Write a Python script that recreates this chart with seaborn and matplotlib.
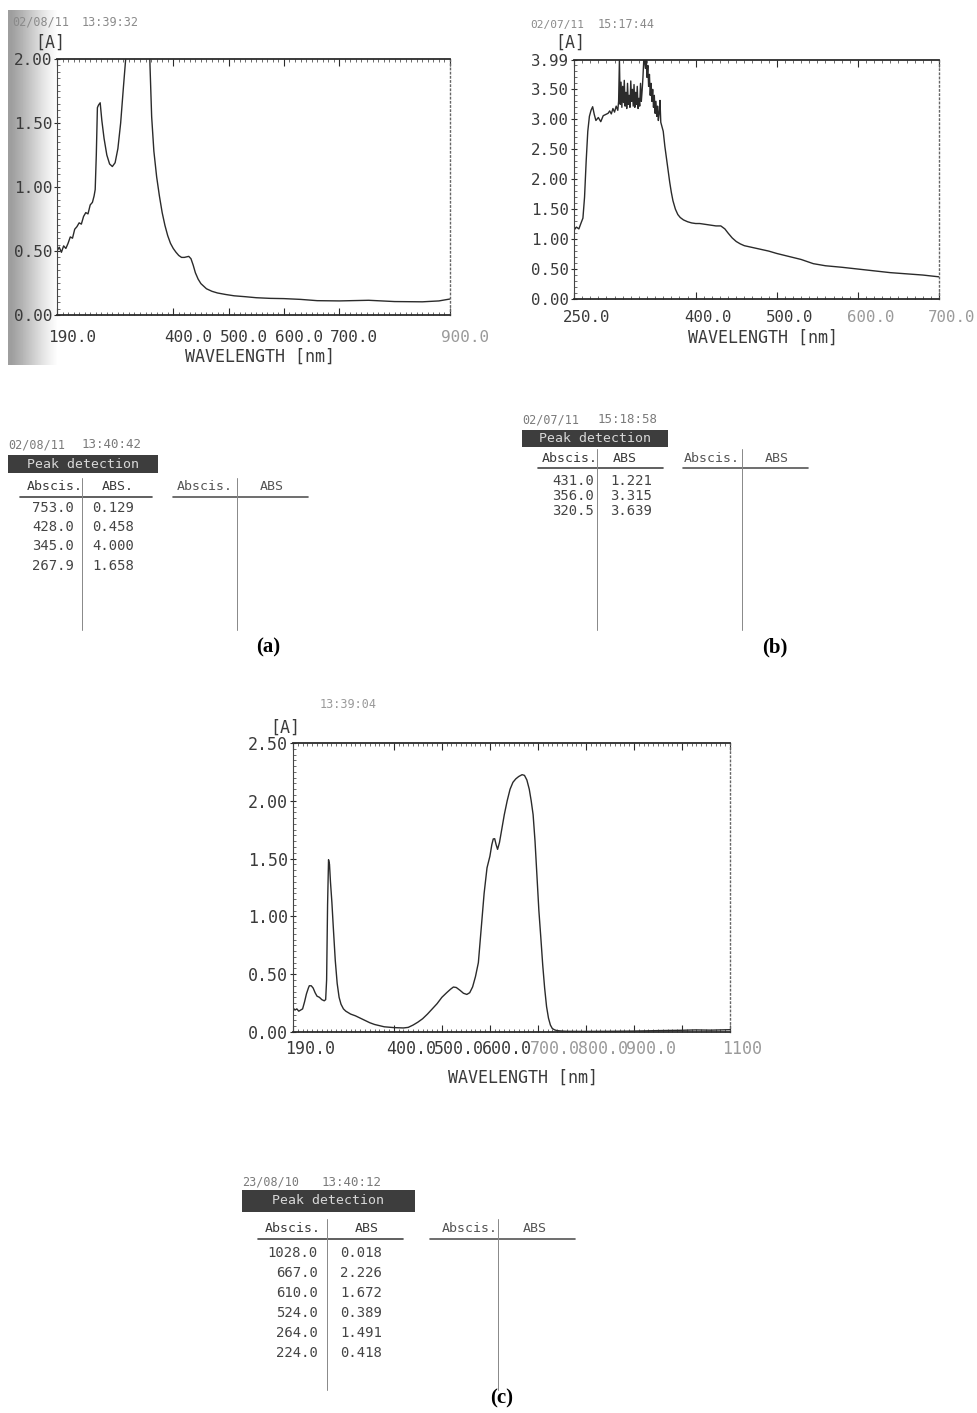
import matplotlib
matplotlib.use("Agg")
import matplotlib.pyplot as plt
from matplotlib.transforms import ScaledTranslation
from matplotlib.ticker import MultipleLocator
from matplotlib.lines import Line2D
from matplotlib.patches import Rectangle
import seaborn as sns
import pandas as pd

W, H = 977, 1413
INK = "#2b2b2b"
MONO = "DejaVu Sans Mono"

# ---------------- spectrum (a) ----------------
wl_a = [190, 194, 198, 202, 206, 210, 214, 218, 222, 226, 230, 234, 238, 242, 246, 250,
        254, 257, 259, 261, 263, 265, 268, 271, 275, 280, 285, 290, 295, 300, 305, 310,
        315, 320, 330, 345, 352, 356, 358, 361, 365, 370, 375, 380, 385, 390, 395, 400,
        405, 410, 415, 420, 425, 428, 432, 436, 440, 445, 450, 460, 470, 480, 495, 510,
        530, 550, 575, 600, 630, 660, 700, 753, 800, 850, 880, 900]
abs_a = [0.50, 0.53, 0.49, 0.54, 0.52, 0.56, 0.61, 0.60, 0.67, 0.69, 0.72, 0.71, 0.77, 0.80, 0.79, 0.86,
         0.88, 0.93, 0.98, 1.25, 1.62, 1.64, 1.658, 1.52, 1.38, 1.25, 1.18, 1.16, 1.19, 1.30, 1.50, 1.78,
         2.05, 2.60, 3.50, 4.00, 3.20, 2.30, 1.95, 1.55, 1.28, 1.08, 0.93, 0.80, 0.70, 0.62, 0.56, 0.52,
         0.49, 0.465, 0.45, 0.45, 0.455, 0.458, 0.44, 0.39, 0.33, 0.28, 0.245, 0.205, 0.185, 0.172, 0.160, 0.150,
         0.143, 0.135, 0.130, 0.128, 0.122, 0.112, 0.110, 0.115, 0.105, 0.103, 0.110, 0.125]

# ---------------- spectrum (b) ----------------
wl_b = [250, 253, 256, 259, 261, 263, 265, 267, 269, 271, 273, 275, 277, 280, 283, 286, 289, 292,
        294, 296, 298, 300, 302, 304, 305, 306, 307, 308, 309, 310, 311, 312, 313, 314, 315, 316,
        317, 318, 319, 320, 321, 322, 323, 324, 325, 326, 327, 328, 329, 330, 331, 332, 333, 334,
        335, 336, 337, 338, 339, 340, 341, 342, 343, 344, 345, 346, 347, 348, 349, 350, 351, 352,
        353, 354, 355, 356, 357, 358, 360, 362, 364, 366, 368, 370, 372, 375, 378, 381, 385, 390,
        395, 400, 405, 410, 415, 420, 425, 431, 436, 440, 445, 450, 455, 460, 470, 480, 490, 500,
        515, 530, 545, 560, 580, 600, 620, 640, 660, 680, 700]
abs_b = [1.15, 1.20, 1.17, 1.28, 1.35, 1.70, 2.30, 2.80, 3.05, 3.15, 3.21, 3.08, 2.98, 3.03, 2.96, 3.06, 3.08, 3.10,
         3.14, 3.09, 3.18, 3.12, 3.22, 3.15, 3.30, 3.99, 3.25, 3.62, 3.20, 3.55, 3.28, 3.65, 3.22, 3.45, 3.18, 3.60,
         3.25, 3.40, 3.20, 3.64, 3.30, 3.50, 3.22, 3.58, 3.20, 3.45, 3.25, 3.55, 3.18, 3.35, 3.22, 3.60, 3.30, 3.48,
         3.70, 3.99, 3.99, 3.85, 3.99, 3.70, 3.90, 3.55, 3.75, 3.40, 3.60, 3.30, 3.50, 3.20, 3.40, 3.10, 3.30, 3.05,
         3.22, 2.98, 3.10, 3.315, 2.95, 2.90, 2.80, 2.55, 2.35, 2.15, 1.95, 1.78, 1.64, 1.50, 1.41, 1.36, 1.32, 1.29,
         1.27, 1.26, 1.26, 1.25, 1.24, 1.23, 1.22, 1.22, 1.17, 1.10, 1.02, 0.96, 0.92, 0.89, 0.86, 0.83, 0.80, 0.76,
         0.71, 0.66, 0.59, 0.555, 0.53, 0.50, 0.47, 0.44, 0.42, 0.40, 0.37]

# ---------------- spectrum (c) ----------------
wl_c = [190, 194, 198, 202, 206, 210, 214, 218, 222, 224, 228, 232, 236, 240, 245, 250, 255, 258,
        260, 262, 264, 266, 268, 271, 274, 278, 282, 286, 290, 295, 300, 310, 320, 330, 340, 350,
        360, 380, 400, 420, 430, 440, 450, 460, 470, 480, 490, 500, 510, 518, 524, 530, 538, 545,
        552, 558, 564, 570, 576, 582, 588, 594, 600, 604, 607, 610, 613, 616, 620, 625, 630, 636,
        642, 648, 654, 660, 667, 672, 677, 682, 686, 690, 694, 698, 702, 706, 710, 714, 718, 722,
        726, 730, 735, 740, 750, 760, 780, 800, 850, 900, 950, 1000, 1028, 1060, 1100]
abs_c = [0.21, 0.19, 0.20, 0.18, 0.19, 0.20, 0.26, 0.33, 0.38, 0.40, 0.40, 0.38, 0.34, 0.31, 0.30, 0.28, 0.27, 0.28,
         0.45, 1.10, 1.49, 1.45, 1.30, 1.12, 0.90, 0.62, 0.42, 0.30, 0.24, 0.20, 0.18, 0.155, 0.14, 0.12, 0.10, 0.08,
         0.065, 0.045, 0.038, 0.035, 0.040, 0.060, 0.085, 0.115, 0.155, 0.20, 0.245, 0.30, 0.34, 0.37, 0.389, 0.385, 0.36, 0.335,
         0.325, 0.34, 0.39, 0.48, 0.60, 0.90, 1.20, 1.42, 1.52, 1.62, 1.67, 1.672, 1.62, 1.58, 1.64, 1.76, 1.88, 2.00,
         2.10, 2.16, 2.19, 2.21, 2.226, 2.22, 2.18, 2.10, 2.00, 1.88, 1.65, 1.35, 1.05, 0.82, 0.58, 0.38, 0.22, 0.12,
         0.06, 0.03, 0.018, 0.012, 0.008, 0.006, 0.005, 0.005, 0.006, 0.008, 0.012, 0.015, 0.018, 0.016, 0.020]

# ---------------- axis ticks ----------------
xt_a = [190, 400, 500, 600, 700, 900]
xl_a = ["190.0", "400.0", "500.0", "600.0", "700.0", "900.0"]
xt_b = [250, 400, 500, 600, 700]
xl_b = ["250.0", "400.0", "500.0", "600.0", "700.0"]
xt_c = [190, 400, 500, 600, 700, 800, 900, 1000, 1100]
xl_c = ["190.0", "400.0", "500.0", "600.0", "700.0", "800.0", "900.0", "", "1100"]
yt_a = [0.0, 0.5, 1.0, 1.5, 2.0]
yt_b = [0.0, 0.5, 1.0, 1.5, 2.0, 2.5, 3.0, 3.5, 3.99]
yt_c = [0.0, 0.5, 1.0, 1.5, 2.0, 2.5]

# ---------------- peak tables ----------------
peak_x_a = ["753.0", "428.0", "345.0", "267.9"]
peak_y_a = ["0.129", "0.458", "4.000", "1.658"]
peak_x_b = ["431.0", "356.0", "320.5"]
peak_y_b = ["1.221", "3.315", "3.639"]
peak_x_c = ["1028.0", "667.0", "610.0", "524.0", "264.0", "224.0"]
peak_y_c = ["0.018", "2.226", "1.672", "0.389", "1.491", "0.418"]

sns.set_style("ticks")
plt.rcParams["font.family"] = [MONO, "DejaVu Sans"]

fig = plt.figure(figsize=(W / 100, H / 100), dpi=100)


def fx(x):
    return x / W


def fy(y):
    return 1 - y / H


def box(l, t, r, b):
    return [fx(l), fy(b), (r - l) / W, (b - t) / H]


def line(x0, y0, x1, y1, **kw):
    fig.add_artist(Line2D([fx(x0), fx(x1)], [fy(y0), fy(y1)], transform=fig.transFigure, **kw))


# scan shading at the left edge of (a)
shade = [[0.62, 0.68, 0.75, 0.82, 0.89, 0.95, 1.0]]
sh = fig.add_axes(box(8, 10, 62, 365), zorder=0)
sh.imshow(shade, cmap="gray", vmin=0, vmax=1, aspect="auto", interpolation="bilinear")
sh.axis("off")


def spectrum(rect, wl, ab, xlim, ylim, xt, xl, yt, xminor, yminor, fsize, pad, shift, faded):
    ax = fig.add_axes(rect, zorder=2)
    ax.patch.set_alpha(0)
    df = pd.DataFrame({"nm": wl, "A": ab})
    sns.lineplot(data=df, x="nm", y="A", ax=ax, color=INK, lw=1.0, estimator=None)
    ax.set_xlim(xlim)
    ax.set_ylim(ylim)
    ax.set_xlabel("")
    ax.set_ylabel("")
    ax.set_xticks(xt)
    ax.set_xticklabels(xl, ha="left", fontsize=fsize)
    ax.set_yticks(yt)
    ax.set_yticklabels([f"{v:.2f}" for v in yt], fontsize=fsize)
    ax.xaxis.set_minor_locator(MultipleLocator(xminor))
    ax.yaxis.set_minor_locator(MultipleLocator(yminor))
    ax.tick_params(axis="x", which="major", direction="in", length=5, width=0.8,
                   top=True, pad=pad, labelcolor="#3a3a3a", color=INK)
    ax.tick_params(axis="x", which="minor", direction="in", length=2.5, width=0.6, top=True, color="#555")
    ax.tick_params(axis="y", which="major", direction="inout", length=5, width=0.8,
                   pad=1, labelcolor="#3a3a3a", color=INK)
    ax.tick_params(axis="y", which="minor", direction="in", length=2, width=0.6, color="#555")
    for lab in ax.get_xticklabels():
        lab.set_transform(lab.get_transform() + ScaledTranslation(-shift / 100, 0, fig.dpi_scale_trans))
        if lab.get_text() in faded:
            lab.set_color("#9a9a9a")
    for s in ["top", "bottom"]:
        ax.spines[s].set_linewidth(1.3)
        ax.spines[s].set_color(INK)
    ax.spines["left"].set_linewidth(0.8)
    ax.spines["left"].set_color("#444")
    ax.spines["right"].set_linestyle((0, (1, 2)))
    ax.spines["right"].set_linewidth(1.0)
    ax.spines["right"].set_color("#666")
    return ax


spectrum(box(57, 59, 450, 315), wl_a, abs_a, (190, 900), (0, 2.0), xt_a, xl_a, yt_a, 10, 0.05, 11.5,
         11, 9, ["900.0"])
spectrum(box(574, 60, 939, 299), wl_b, abs_b, (250, 700), (0, 3.99), xt_b, xl_b, yt_b, 10, 0.1, 11.3,
         8, 11, ["600.0", "700.0"])
spectrum(box(293, 743, 730, 1032), wl_c, abs_c, (190, 1100), (0, 2.5), xt_c, xl_c, yt_c, 10, 0.05, 12,
         6, 8, ["700.0", "800.0", "900.0", "1100"])


def ftext(x, y, s, size=10, color="#3a3a3a", ha="center", **kw):
    fig.text(fx(x), fy(y), s, fontsize=size, color=color, ha=ha, va="center", **kw)


# headers and axis titles of the spectra
ftext(12, 22, "02/08/11", 8.5, "#8a8a8a", "left")
ftext(82, 22, "13:39:32", 8.5, "#8a8a8a", "left")
ftext(50, 43, "[A]", 12)
ftext(260, 357, "WAVELENGTH [nm]", 12)

ftext(530, 25, "02/07/11", 8, "#8a8a8a", "left")
ftext(598, 25, "15:17:44", 8.5, "#8a8a8a", "left")
ftext(570, 43, "[A]", 12)
ftext(763, 338, "WAVELENGTH [nm]", 12)

ftext(320, 705, "13:39:04", 8.5, "#9a9a9a", "left")
ftext(285, 728, "[A]", 12)
ftext(523, 1078, "WAVELENGTH [nm]", 12)


def peak_table(date, time, date_x, time_x, date_y, bar, head_y, c1, c2, under1, under2, div1, div2,
               bottom, rows_y, right_x, left_x, xs, ys, abs_label):
    ftext(date_x, date_y, date, 8.5, "#7a7a7a", "left")
    ftext(time_x, date_y, time, 9, "#7a7a7a", "left")
    l, t, r, b = bar
    fig.add_artist(Rectangle((fx(l), fy(b)), (r - l) / W, (b - t) / H, transform=fig.transFigure,
                             facecolor="#3d3d3d", edgecolor="none"))
    ftext((l + r) / 2, (t + b) / 2, "Peak detection", 9.5, "#d8d8d8")
    ftext(c1[0], head_y, "Abscis.", 9.5)
    ftext(c1[1], head_y, abs_label, 9.5)
    ftext(c2[0], head_y, "Abscis.", 9.5, "#555")
    ftext(c2[1], head_y, "ABS", 9.5, "#555")
    line(under1[0], under1[1], under1[2], under1[1], color="#444", lw=1.2)
    line(under2[0], under2[1], under2[2], under2[1], color="#555", lw=1.2)
    line(div1, head_y - 9, div1, bottom, color="#888", lw=0.7)
    line(div2, head_y - 9, div2, bottom, color="#888", lw=0.7)
    for yy, a, v in zip(rows_y, xs, ys):
        ftext(right_x, yy, a, 10, "#444", "right")
        ftext(left_x, yy, v, 10, "#444", "left")


peak_table("02/08/11", "13:40:42", 8, 82, 445, (8, 455, 158, 473), 487, (55, 118), (205, 272),
           (20, 497, 152), (173, 497, 308), 82, 237, 630, [508, 527, 546, 566], 74, 92,
           peak_x_a, peak_y_a, "ABS.")
peak_table("02/07/11", "15:18:58", 522, 598, 420, (522, 430, 668, 447), 458, (570, 625), (712, 777),
           (538, 468, 663), (683, 468, 808), 597, 742, 630, [481, 496, 511], 594, 610,
           peak_x_b, peak_y_b, "ABS")
peak_table("23/08/10", "13:40:12", 242, 322, 1182, (242, 1190, 415, 1212), 1228, (293, 367), (470, 535),
           (258, 1239, 403), (430, 1239, 575), 327, 498, 1390,
           [1253, 1273, 1293, 1313, 1333, 1353], 318, 340, peak_x_c, peak_y_c, "ABS")

# panel captions
for x, y, s in [(268, 647, "(a)"), (775, 647, "(b)"), (502, 1398, "(c)")]:
    fig.text(fx(x), fy(y), s, fontsize=15, fontweight="bold", family="Liberation Serif",
             ha="center", va="center", color="black")

fig.savefig("out.png", dpi=100)
